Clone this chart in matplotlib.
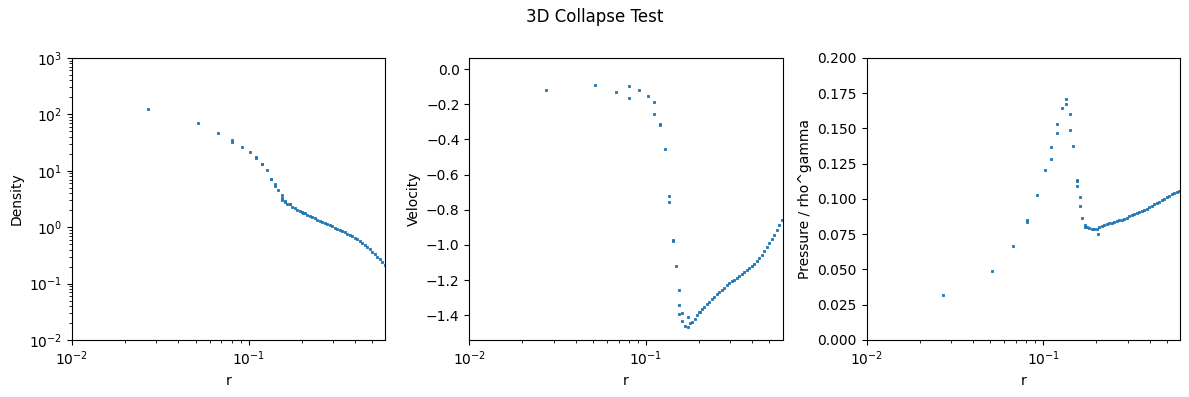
import matplotlib
matplotlib.use("Agg")
import matplotlib.pyplot as plt


# Sparse inner points (r, density, velocity, entropy)
r_inner = [0.0270, 0.0513, 0.0673, 0.0806, 0.0806, 0.0916, 0.102, 0.1104, 0.1104,
           0.1194, 0.1194, 0.1274, 0.1343, 0.1343, 0.1414, 0.1414, 0.147,
           0.1545, 0.1545, 0.1545, 0.1607, 0.1607, 0.1655, 0.172, 0.172, 0.203]
rho_inner = [123, 69.4, 46.0, 35.0, 32.6, 25.9, 21.1, 17.2, 17.0,
             13.4, 13.2, 10.5, 7.26, 7.1, 5.92, 5.36, 4.62,
             3.66, 3.3, 3.07, 2.86, 2.75, 2.62, 2.6, 2.55, 1.82]
vel_inner = [-0.120, -0.091, -0.131, -0.097, -0.166, -0.120, -0.154, -0.189, -0.257,
             -0.311, -0.318, -0.457, -0.720, -0.754, -0.974, -0.978, -1.120,
             -1.257, -1.343, -1.394, -1.389, -1.434, -1.463, -1.411, -1.469, -1.38]
ent_inner = [0.0319, 0.0489, 0.0668, 0.0853, 0.0839, 0.1031, 0.1202, 0.1366, 0.1280,
             0.1530, 0.1466, 0.1644, 0.1708, 0.1672, 0.1600, 0.1487, 0.1373,
             0.1138, 0.1124, 0.1095, 0.1017, 0.0953, 0.0867, 0.0814, 0.0800, 0.0753]

# Dense outer profile
r_outer = [0.1763, 0.1821, 0.1882, 0.1944, 0.2008, 0.2074, 0.2143, 0.2214, 0.2287,
           0.2362, 0.2441, 0.2521, 0.2605, 0.2691, 0.2780, 0.2872, 0.2967, 0.3066,
           0.3167, 0.3272, 0.3380, 0.3492, 0.3607, 0.3727, 0.3850, 0.3977, 0.4109,
           0.4245, 0.4385, 0.4529, 0.4679, 0.4834, 0.4994, 0.5160, 0.5330, 0.5506,
           0.5689, 0.5877]
rho_outer = [2.26, 2.15, 2.03, 1.93, 1.84, 1.75, 1.66, 1.58, 1.50,
             1.43, 1.36, 1.30, 1.24, 1.18, 1.13, 1.08, 1.03, 0.98,
             0.93, 0.89, 0.85, 0.81, 0.77, 0.73, 0.69, 0.65, 0.61,
             0.57, 0.53, 0.49, 0.45, 0.41, 0.37, 0.335, 0.30, 0.27,
             0.24, 0.215]
vel_outer = [-1.445, -1.437, -1.418, -1.399, -1.381, -1.366, -1.353, -1.338, -1.323,
             -1.309, -1.295, -1.281, -1.267, -1.254, -1.242, -1.229, -1.217, -1.207,
             -1.197, -1.186, -1.176, -1.166, -1.153, -1.141, -1.130, -1.120, -1.109,
             -1.092, -1.072, -1.055, -1.033, -1.011, -0.990, -0.968, -0.943, -0.917,
             -0.889, -0.860]
ent_outer = [0.0800, 0.0792, 0.0789, 0.0789, 0.0790, 0.0800, 0.0806, 0.0813, 0.0821,
             0.0827, 0.0832, 0.0837, 0.0842, 0.0848, 0.0854, 0.0860, 0.0868, 0.0876,
             0.0884, 0.0892, 0.0899, 0.0906, 0.0914, 0.0923, 0.0932, 0.0941, 0.0951,
             0.0961, 0.0971, 0.0981, 0.0991, 0.1001, 0.1012, 0.1022, 0.1032, 0.1041,
             0.1050, 0.1060]


def main():
    r = r_inner + r_outer
    rho = rho_inner + rho_outer
    vel = vel_inner + vel_outer
    ent = ent_inner + ent_outer

    fig, axes = plt.subplots(1, 3, figsize=(11.89, 3.97), dpi=100)
    fig.suptitle('3D Collapse Test')

    style = dict(linestyle='none', marker='s', ms=1.7, mew=0.6, color='C0')

    ax = axes[0]
    ax.plot(r, rho, **style)
    ax.set_xscale('log')
    ax.set_yscale('log')
    ax.set_xlim(0.01, 0.594)
    ax.set_ylim(1e-2, 1e3)
    ax.set_xlabel('r')
    ax.set_ylabel('Density')

    ax = axes[1]
    ax.plot(r, vel, **style)
    ax.set_xscale('log')
    ax.set_xlim(0.01, 0.594)
    ax.set_ylim(-1.54, 0.063)
    ax.set_xlabel('r')
    ax.set_ylabel('Velocity')

    ax = axes[2]
    ax.plot(r, ent, **style)
    ax.set_xscale('log')
    ax.set_xlim(0.01, 0.594)
    ax.set_ylim(0, 0.2)
    ax.set_xlabel('r')
    ax.set_ylabel('Pressure / rho^gamma')

    fig.subplots_adjust(left=0.0606, right=0.9924, top=0.854, bottom=0.1436, wspace=0.2675)
    fig.savefig('out.png', dpi=100)


if __name__ == "__main__":
    main()
